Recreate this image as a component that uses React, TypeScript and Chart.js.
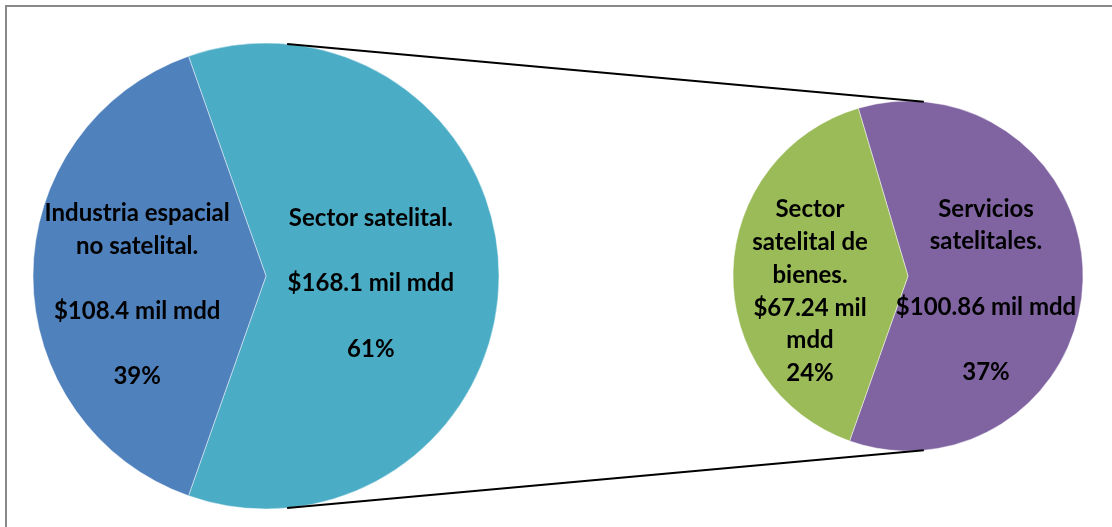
import React, { useEffect, useRef } from "react";
import { Chart, registerables } from "chart.js";

Chart.register(...registerables);

// ---- Data ----
const mainCategories = ["Sector satelital.", "Industria espacial no satelital."];
const mainValues = [168.1, 108.4];
const mainValueLabels = ["$168.1 mil mdd", "$108.4 mil mdd"];
const mainPercentLabels = ["61%", "39%"];
const mainColors = ["#4BACC6", "#4F81BD"];

const subCategories = ["Servicios satelitales.", "Sector satelital de bienes."];
const subValues = [100.86, 67.24];
const subValueLabels = ["$100.86 mil mdd", "$67.24 mil mdd"];
const subPercentLabels = ["37%", "24%"];
const subColors = ["#8064A2", "#9BBB59"];

// label text as wrapped lines (text only)
const mainLabelLines = [
  ["Sector satelital.", "", mainValueLabels[0], "", mainPercentLabels[0]],
  ["Industria espacial", "no satelital.", "", mainValueLabels[1], "", mainPercentLabels[1]],
];
const subLabelLines = [
  ["Servicios", "satelitales.", "", subValueLabels[0], "", subPercentLabels[0]],
  ["Sector", "satelital de", "bienes.", "$67.24 mil", "mdd", subPercentLabels[1]],
];

// ---- Layout/style ----
const W = 1112;
const H = 527;
const FONT = "bold 24px Lato";
const LINE_H = 32.7;
// [radial factor, dy] per slice
const mainPlacement = [
  [0.45, 7.5],
  [0.553, 19],
];
const subPlacement = [
  [0.446, 12.5],
  [0.56, 18],
];

function labelPlugin(lines: string[][], placement: number[][]) {
  return {
    id: "sliceLabels",
    afterDatasetsDraw(chart: any) {
      const ctx = chart.ctx;
      const meta = chart.getDatasetMeta(0);
      ctx.save();
      ctx.font = FONT;
      ctx.fillStyle = "#000";
      ctx.textAlign = "center";
      ctx.textBaseline = "middle";
      meta.data.forEach((arc: any, i: number) => {
        const p = arc.getProps(["x", "y", "startAngle", "endAngle", "outerRadius"], true);
        const mid = (p.startAngle + p.endAngle) / 2;
        const [f, dy] = placement[i];
        const cx = p.x + Math.cos(mid) * p.outerRadius * f;
        const cy = p.y + Math.sin(mid) * p.outerRadius * f + dy;
        const ls = lines[i];
        const top = cy - ((ls.length - 1) * LINE_H) / 2;
        ls.forEach((t, k) => {
          if (t) ctx.fillText(t, cx, top + k * LINE_H);
        });
      });
      ctx.restore();
    },
  };
}

export default function App() {
  const mainRef = useRef<HTMLCanvasElement>(null);
  const subRef = useRef<HTMLCanvasElement>(null);

  useEffect(() => {
    const mainTotal = mainValues.reduce((a, b) => a + b, 0);
    const subTotal = subValues.reduce((a, b) => a + b, 0);
    const mainRotation = 90 - (mainValues[0] / mainTotal) * 180;
    const subRotation = 90 - (subValues[0] / subTotal) * 180 + 1.5;

    const main = new Chart(mainRef.current!, {
      type: "pie",
      data: {
        labels: mainCategories,
        datasets: [
          {
            data: mainValues,
            backgroundColor: mainColors,
            borderColor: "rgba(255,255,255,0.45)",
            borderWidth: 1,
            hoverOffset: 0,
          },
        ],
      },
      options: {
        responsive: false,
        animation: false,
        rotation: mainRotation,
        radius: 233,
        layout: { padding: { left: 0, right: W - 2 * 266, top: 25, bottom: 0 } },
        plugins: { legend: { display: false }, tooltip: { enabled: false } },
        events: [],
      },
      plugins: [labelPlugin(mainLabelLines, mainPlacement)],
    });

    const connector = {
      id: "connector",
      afterDraw(chart: any) {
        const a = main.getDatasetMeta(0).data[0] as any;
        const b = chart.getDatasetMeta(0).data[0] as any;
        const x1 = a.x, y1 = a.y, r1 = a.outerRadius;
        const x2 = b.x, y2 = b.y, r2 = b.outerRadius;
        const d = Math.hypot(x2 - x1, y2 - y1);
        const s = (r1 - r2) / d;
        const th = Math.asin(s);
        const ctx = chart.ctx;
        ctx.save();
        ctx.strokeStyle = "#000";
        ctx.lineWidth = 2;
        [-1, 1].forEach((sg) => {
          const ax = x1 + r1 * Math.sin(th);
          const ay = y1 + sg * r1 * Math.cos(th);
          const bx = x2 + r2 * Math.sin(th);
          const by = y2 + sg * r2 * Math.cos(th);
          ctx.beginPath();
          ctx.moveTo(ax, ay);
          ctx.lineTo(bx, by);
          ctx.stroke();
        });
        ctx.restore();
      },
    };

    const sub = new Chart(subRef.current!, {
      type: "pie",
      data: {
        labels: subCategories,
        datasets: [
          {
            data: subValues,
            backgroundColor: subColors,
            borderColor: "rgba(255,255,255,0.45)",
            borderWidth: 1,
            hoverOffset: 0,
          },
        ],
      },
      options: {
        responsive: false,
        animation: false,
        rotation: subRotation,
        radius: 175,
        layout: { padding: { left: 2 * 908 - W, right: 0, top: 25, bottom: 0 } },
        plugins: { legend: { display: false }, tooltip: { enabled: false } },
        events: [],
      },
      plugins: [labelPlugin(subLabelLines, subPlacement), connector],
    });

    return () => {
      sub.destroy();
      main.destroy();
    };
  }, []);

  return (
    <div
      style={{
        position: "fixed",
        left: 0,
        top: 0,
        width: W,
        height: H,
        overflow: "hidden",
        background: "#fff",
      }}
    >
      <div
        style={{
          position: "absolute",
          left: 5,
          top: 5,
          width: 1300,
          height: 700,
          border: "2px solid #898989",
        }}
      />
      <canvas
        ref={mainRef}
        width={W}
        height={H}
        style={{ position: "absolute", left: 0, top: 0, display: "block" }}
      />
      <canvas
        ref={subRef}
        width={W}
        height={H}
        style={{ position: "absolute", left: 0, top: 0, display: "block" }}
      />
    </div>
  );
}
